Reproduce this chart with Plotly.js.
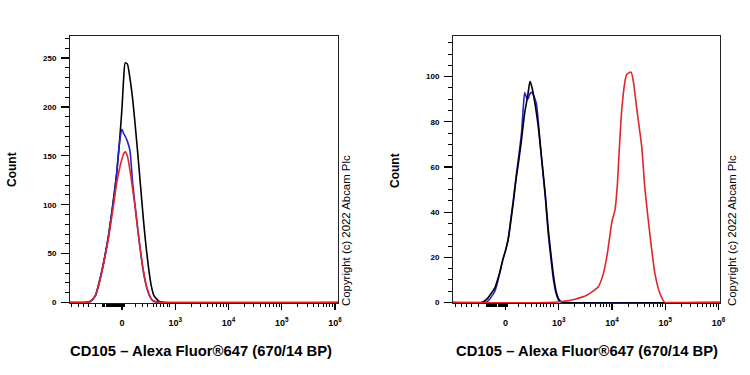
<!DOCTYPE html>
<html>
<head>
<meta charset="utf-8">
<script src="https://cdn.plot.ly/plotly-3.0.1.min.js"></script>
<style>html,body{margin:0;padding:0;background:#fff;}#chart{width:750px;height:375px;}</style>
</head>
<body>
<div id="chart"></div>
<script>
// x positions are in logicle display units: 0 -> 0, 1 -> 10^3, 2 -> 10^4, 3 -> 10^5, 4 -> 10^6
const xTickVals = [0, 1, 2, 3, 4];
const xTickText = ['0', '10<sup>3</sup>', '10<sup>4</sup>', '10<sup>5</sup>', '10<sup>6</sup>'];

// Left panel (isotype / unstained overlay)
const leftX = [-0.98,-0.7,-0.6,-0.5,-0.4,-0.3,-0.25,-0.2,-0.15,-0.1,-0.05,0,0.03,0.06,0.1,0.15,0.2,0.25,0.3,0.35,0.4,0.45,0.5,0.55,0.6,0.7,0.8,4.06];
const leftBlack = [0,0,1,7,27,54,70,89,110,132,162,199,228,245,244,229,208,180,150,118,86,58,35,17,7,1,0,0];
const leftBlue  = [0,0,1,7,27,53,69,88,108,132,162,177,173,170,165,155,122,97,73,51,32,18,9,3.5,1,0.2,0,0];
const leftRed   = [0,0,1,7,26,52,67,85,103,122,136,147,152,154,150,135,116,96,73,52,33,19,10,4,1.5,0.3,0,0];

// Right panel
const rightX = [-0.99,-0.45,-0.35,-0.3,-0.2,-0.15,-0.1,-0.05,0,0.05,0.1,0.15,0.2,0.25,0.3,0.33,0.36,0.39,0.42,0.46,0.5,0.54,0.58,0.62,0.66,0.7,0.75,0.8,0.85,0.9,0.95,1.0,1.05,1.12,4.03];
const rightBlack = [0,0,1.5,3,6.5,10,14,19,23,28,36,45,55,63,72,78,84,88,92,98,95,90,84,77,68,59,47,33,22,12,5,1.5,0.3,0,0];
const rightBlue  = [0,0,0.3,1.5,5,9,14,19,23,28,37,46,56,65,75,85,93,91,90,92.5,93,91,88,79,68,58,46,31,20,10,4,1,0.2,0,0];
const rightRedX = [-0.99,0.774,1.055,1.305,1.525,1.743,1.837,1.912,1.962,2.0,2.056,2.1,2.137,2.182,2.244,2.276,2.357,2.4,2.464,2.558,2.616,2.712,2.806,2.9,2.995,3.09,4.03];
const rightRed  = [0,0,0.5,1.5,3.2,7,12.8,21.6,30,36,41,52,68,85,98,101,102,98,86,69,51,30,12.8,4,0,0,0];

const leftYTicks = [0, 50, 100, 150, 200, 250];
const rightYTicks = [0, 20, 40, 60, 80, 100];

const xTitle = 'CD105 \u2013 Alexa Fluor\u00AE647 (670/14 BP)';
const yTitle = 'Count';
const copyright = 'Copyright (c) 2022 Abcam Plc';

// minor tick positions (display units)
const xMinor = [-0.945,-0.82,-0.727,-0.633,-0.507];
for (let v = -0.36; v <= 0.045; v += 0.02) xMinor.push(+v.toFixed(3));
[0.244,0.376,0.488,0.582,0.657,0.714,0.77,0.845,0.9].forEach(v => xMinor.push(v));
for (let k = 1; k <= 3; k++) for (let m = 2; m <= 9; m++) xMinor.push(k + Math.log10(m));

const BLACK = '#000000', BLUE = '#2323c8', RED = '#e0262b';
const LW = 1.6;
const FONT = 'Arial, "Liberation Sans", sans-serif';

function line(x, y, color, xa, ya) {
  return {x: x, y: y, type: 'scatter', mode: 'lines', xaxis: xa, yaxis: ya,
          line: {color: color, width: LW, shape: 'spline', smoothing: 0.6},
          hoverinfo: 'skip', showlegend: false};
}

const data = [
  line(leftX, leftBlack, BLACK, 'x', 'y'),
  line(leftX, leftBlue, BLUE, 'x', 'y'),
  line(leftX, leftRed, RED, 'x', 'y'),
  line(rightX, rightBlue, BLUE, 'x2', 'y2'),
  line(rightX, rightBlack, BLACK, 'x2', 'y2'),
  line(rightRedX, rightRed, RED, 'x2', 'y2')
];

function xAxis(domain, range, anchor) {
  return {domain: domain, range: range, anchor: anchor, showgrid: false, zeroline: false,
    showline: true, mirror: true, linecolor: '#222', linewidth: 1,
    tickmode: 'array', tickvals: xTickVals, ticktext: xTickText,
    ticks: 'outside', ticklen: 6, tickwidth: 1.3, tickcolor: '#000',
    ticklabelstandoff: 5,
    tickfont: {family: FONT, size: 9, color: '#000', weight: 'bold'},
    minor: {tickmode: 'array', tickvals: xMinor, ticks: 'outside', ticklen: 3, tickwidth: 1, tickcolor: '#000', showgrid: false},
    fixedrange: true};
}
function yAxis(domain, range, anchor, tickvals, minorD) {
  return {domain: domain, range: range, anchor: anchor, showgrid: false, zeroline: false,
    showline: true, mirror: true, linecolor: '#222', linewidth: 1,
    tickmode: 'array', tickvals: tickvals, ticktext: tickvals.map(String),
    ticks: 'outside', ticklen: 8, tickwidth: 1.3, tickcolor: '#000',
    ticklabelstandoff: 3,
    tickfont: {family: FONT, size: 8, color: '#000', weight: 'bold'},
    minor: {dtick: minorD, tick0: 0, ticks: 'outside', ticklen: 4, tickwidth: 1, tickcolor: '#000', showgrid: false},
    fixedrange: true};
}

const yDom = [1 - 303/375, 1 - 36/375];
const layout = {
  width: 750, height: 375,
  margin: {l: 0, r: 0, t: 0, b: 0, pad: 0},
  paper_bgcolor: '#fff', plot_bgcolor: '#fff',
  showlegend: false,
  xaxis: xAxis([70/750, 338/750], [-0.9765, 4.056], 'y'),
  yaxis: yAxis(yDom, [-0.5, 272.5], 'x', leftYTicks, 10),
  xaxis2: xAxis([453/750, 720/750], [-0.986, 4.028], 'y2'),
  yaxis2: yAxis(yDom, [-0.2, 118], 'x2', rightYTicks, 5),
  annotations: [
    {text: yTitle, xref: 'paper', yref: 'paper', x: 12/750, y: 1 - 170/375, textangle: -90,
     showarrow: false, xanchor: 'center', yanchor: 'middle', font: {family: FONT, size: 12, color: '#000', weight: 'bold'}},
    {text: yTitle, xref: 'paper', yref: 'paper', x: 395/750, y: 1 - 170/375, textangle: -90,
     showarrow: false, xanchor: 'center', yanchor: 'middle', font: {family: FONT, size: 12, color: '#000', weight: 'bold'}},
    {text: xTitle, xref: 'paper', yref: 'paper', x: 201/750, y: 1 - 351/375,
     showarrow: false, xanchor: 'center', yanchor: 'middle', font: {family: FONT, size: 14.8, color: '#000', weight: 'bold'}},
    {text: xTitle, xref: 'paper', yref: 'paper', x: 587/750, y: 1 - 351/375,
     showarrow: false, xanchor: 'center', yanchor: 'middle', font: {family: FONT, size: 14.8, color: '#000', weight: 'bold'}},
    {text: copyright, xref: 'paper', yref: 'paper', x: 346/750, y: 1 - 231/375, textangle: -90,
     showarrow: false, xanchor: 'center', yanchor: 'middle', font: {family: FONT, size: 11.4, color: '#000'}},
    {text: copyright, xref: 'paper', yref: 'paper', x: 732/750, y: 1 - 231/375, textangle: -90,
     showarrow: false, xanchor: 'center', yanchor: 'middle', font: {family: FONT, size: 11.4, color: '#000'}}
  ]
};

Plotly.newPlot('chart', data, layout, {staticPlot: true, displayModeBar: false});
</script>
</body>
</html>
